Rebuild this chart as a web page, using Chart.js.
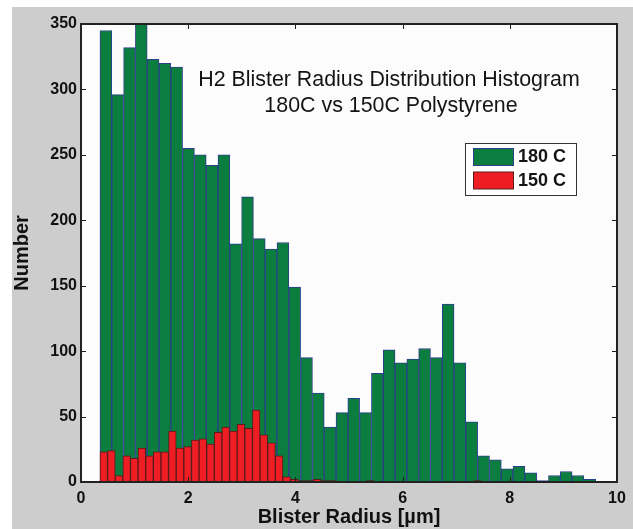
<!DOCTYPE html>
<html>
<head>
<meta charset="utf-8">
<script src="https://cdn.jsdelivr.net/npm/chart.js@4.4.1/dist/chart.umd.min.js"></script>
<style>
html,body{margin:0;padding:0;background:#ffffff;}
#wrap{width:633px;height:529px;position:relative;}
</style>
</head>
<body>
<div id="wrap"><canvas id="c" width="633" height="529"></canvas></div>
<script>
// ---- data ----
const green180Centers = [0.464,0.684,0.905,1.125,1.345,1.565,1.785,2.006,2.226,2.446,2.666,2.886,3.107,3.327,3.547,3.767,3.987,4.208,4.428,4.648,4.868,5.088,5.309,5.529,5.749,5.969,6.189,6.410,6.630,6.850,7.070,7.290,7.511,7.731,7.951,8.171,8.391,8.612,8.832,9.052,9.272,9.493];
const green180Counts = [345,296,332,350,323,320,317,255,250,242,250,182,218,186,178,183,149,95,68,42,53,64,53,83,101,91,94,102,95,136,91,46,20,17,10,12,7,1,5,8,5,2];
const red150Centers = [0.425,0.567,0.710,0.852,0.994,1.136,1.278,1.421,1.563,1.705,1.847,1.989,2.132,2.274,2.416,2.558,2.700,2.843,2.985,3.127,3.269,3.411,3.554,3.696,3.838,3.980,4.122,4.265,4.407,4.549,4.691,4.833,4.976,5.118,5.260,5.402,5.544,5.687,5.829,5.971,6.113,6.255,6.398,6.540,6.682,6.824,6.966,7.109,7.251,7.393];
const red150Counts = [23,24,5,20,18,26,20,23,23,39,26,27,32,33,29,38,42,39,44,41,55,36,30,20,4,2,1,1,2,1,1,0,0,0,0,1,0,0,0,0,0,0,0,0,0,0,0,0,0,1];
const xTickValues = [0,2,4,6,8,10];
const yTickValues = [0,50,100,150,200,250,300,350];
const seriesLabels = ['180 C','150 C'];
const titleLines = ['H2 Blister Radius Distribution Histogram','180C vs 150C Polystyrene'];
const xTitle = 'Blister Radius [\u00b5m]';
const yTitle = 'Number';

// ---- styles ----
const FF = "'Liberation Sans', Arial, Helvetica, sans-serif";
const GREEN = '#0b7d3e', GREEN_B = '#2c3f8c';
const RED = '#ee1d24', RED_B = '#5a1a1a';

const framePlugin = {
  id: 'frame',
  beforeDraw(chart) {
    const {ctx, chartArea: a, width, height} = chart;
    ctx.save();
    ctx.fillStyle = '#ffffff';
    ctx.fillRect(0, 0, width, height);
    ctx.fillStyle = '#cdcdcd';
    ctx.fillRect(12, 7, width - 12, height - 7);
    ctx.fillStyle = '#fcfcfc';
    ctx.fillRect(a.left, a.top, a.right - a.left, a.bottom - a.top);
    ctx.restore();
  },
  afterDraw(chart) {
    const {ctx, chartArea: a} = chart;
    const xs = chart.scales.x, ys = chart.scales.y;
    ctx.save();
    // inward ticks on all four sides
    ctx.strokeStyle = '#1e1e1e';
    ctx.lineWidth = 1;
    ctx.beginPath();
    xs.ticks.forEach(t => {
      const px = Math.round(xs.getPixelForValue(t.value)) + 0.5;
      ctx.moveTo(px, a.bottom); ctx.lineTo(px, a.bottom - 5);
      ctx.moveTo(px, a.top); ctx.lineTo(px, a.top + 5);
    });
    ys.ticks.forEach(t => {
      const py = Math.round(ys.getPixelForValue(t.value)) + 0.5;
      ctx.moveTo(a.left, py); ctx.lineTo(a.left + 5, py);
      ctx.moveTo(a.right, py); ctx.lineTo(a.right - 5, py);
    });
    ctx.stroke();
    // frame
    ctx.lineWidth = 2;
    ctx.strokeStyle = '#222222';
    ctx.strokeRect(a.left, a.top, a.right - a.left, a.bottom - a.top);
    // in-plot title
    ctx.fillStyle = '#141414';
    ctx.font = '21.4px ' + FF;
    ctx.textAlign = 'center';
    ctx.textBaseline = 'alphabetic';
    ctx.fillText(titleLines[0], 389, 86);
    ctx.fillText(titleLines[1], 391, 111.5);
    // legend
    const ds = chart.data.datasets;
    const order = [1, 0];
    ctx.fillStyle = '#ffffff';
    ctx.fillRect(465.5, 143.5, 111, 52);
    ctx.strokeStyle = '#333333';
    ctx.lineWidth = 1;
    ctx.strokeRect(465.5, 143.5, 111, 52);
    ctx.font = 'bold 18px ' + FF;
    ctx.textAlign = 'left';
    ctx.textBaseline = 'middle';
    order.forEach((di, k) => {
      const y0 = 148.5 + k * 23.5;
      ctx.fillStyle = ds[di].backgroundColor;
      ctx.fillRect(473.5, y0, 40, 17);
      ctx.strokeStyle = ds[di].borderColor;
      ctx.strokeRect(473.5, y0, 40, 17);
      ctx.fillStyle = '#141414';
      ctx.fillText(ds[di].label, 518, y0 + 9);
    });
    ctx.restore();
  }
};

new Chart(document.getElementById('c').getContext('2d'), {
  type: 'bar',
  data: {
    datasets: [
      {
        label: seriesLabels[1],
        data: red150Centers.map((x, i) => ({x: x, y: red150Counts[i]})),
        xAxisID: 'x2', yAxisID: 'y',
        backgroundColor: RED, borderColor: RED_B, borderWidth: 1, borderSkipped: false,
        barPercentage: 1, categoryPercentage: 1, grouped: false, order: 0
      },
      {
        label: seriesLabels[0],
        data: green180Centers.map((x, i) => ({x: x, y: green180Counts[i]})),
        xAxisID: 'x', yAxisID: 'y',
        backgroundColor: GREEN, borderColor: GREEN_B, borderWidth: 1, borderSkipped: false,
        barPercentage: 1, categoryPercentage: 1, grouped: false, order: 1
      }
    ]
  },
  options: {
    responsive: false,
    animation: false,
    devicePixelRatio: 1,
    layout: {padding: {left: 0, top: 24, right: 16, bottom: 0}},
    plugins: {legend: {display: false}, tooltip: {enabled: false}, title: {display: false}},
    scales: {
      x: {
        type: 'linear', position: 'bottom', min: 0, max: 10, offset: false,
        grid: {display: false, drawTicks: false}, border: {display: false},
        afterBuildTicks: s => { s.ticks = xTickValues.map(v => ({value: v})); },
        ticks: {color: '#111', padding: 7, maxRotation: 0, font: {family: FF, size: 16, weight: 'bold'}},
        title: {display: true, text: xTitle, color: '#111', padding: {top: 0, bottom: 0}, font: {family: FF, size: 20, weight: 'bold'}},
        afterFit: s => { s.height = 47; }
      },
      x2: {
        type: 'linear', display: false, min: 0, max: 10, offset: false,
        afterBuildTicks: s => { s.ticks = xTickValues.map(v => ({value: v})); }
      },
      y: {
        type: 'linear', min: 0, max: 350,
        grid: {display: false, drawTicks: false}, border: {display: false},
        afterBuildTicks: s => { s.ticks = yTickValues.map(v => ({value: v})); },
        ticks: {color: '#111', padding: 4, font: {family: FF, size: 16, weight: 'bold'}},
        title: {display: true, text: yTitle, color: '#111', padding: {top: 10, bottom: 0}, font: {family: FF, size: 20, weight: 'bold'}},
        afterFit: s => { s.width = 81; }
      }
    }
  },
  plugins: [framePlugin]
});
</script>
</body>
</html>
